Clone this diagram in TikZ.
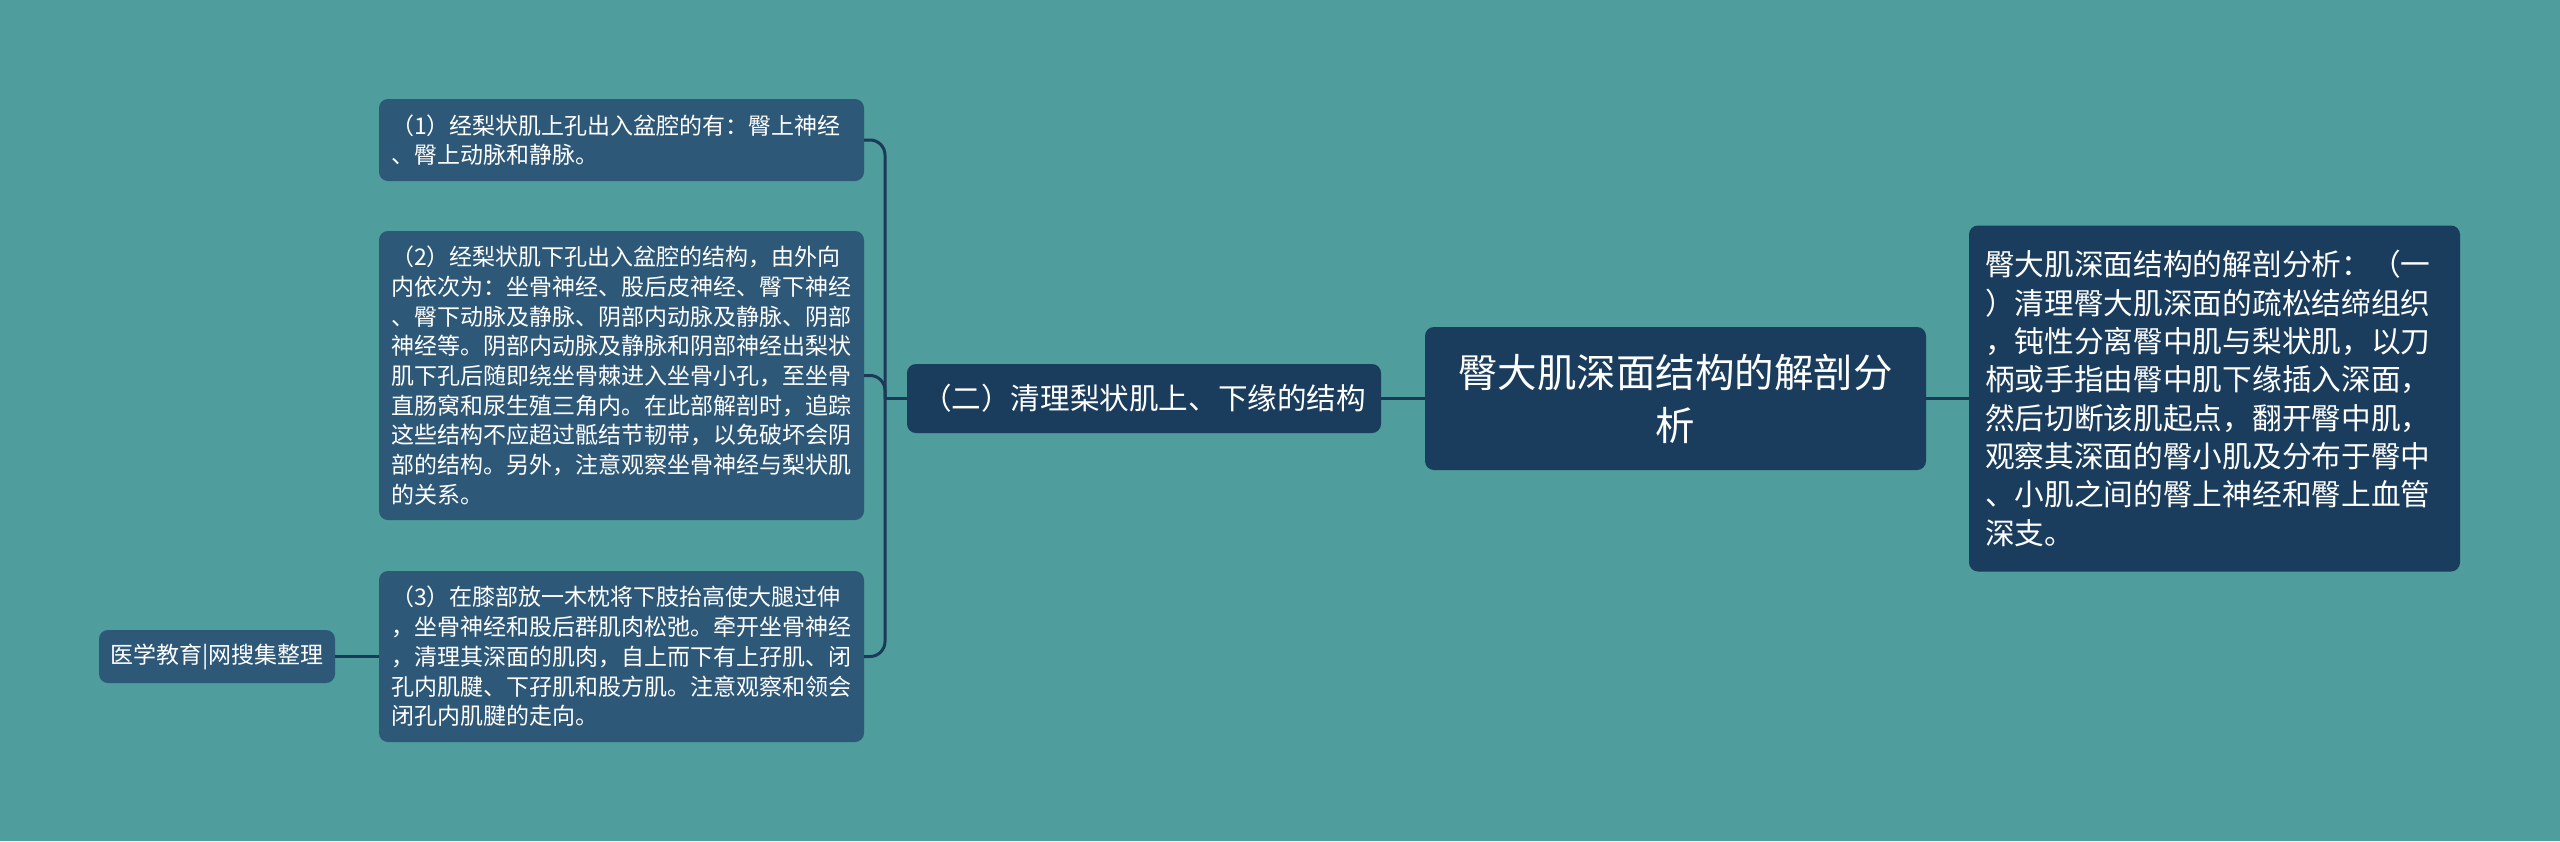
\documentclass[tikz,border=0pt]{standalone}
\usepackage{fontspec}
\newfontfamily\cjk{Noto Sans CJK SC}
\definecolor{bgc}{HTML}{4F9D9D}
\definecolor{leaffill}{HTML}{2E5878}
\definecolor{darkfill}{HTML}{1B3D5D}
\definecolor{linec}{HTML}{1B3A57}
\begin{document}
\begin{tikzpicture}[x=1pt,y=-1pt,
  box/.style={rounded corners=9pt, text=white, inner sep=0pt, outer sep=0pt, anchor=center},
  leaf/.style={box, fill=leaffill, font=\cjk\fontsize{23}{29.7}\selectfont, align=left, text width=461pt, minimum width=485pt},
  dark/.style={box, fill=darkfill},
  conn/.style={draw=linec, line width=3pt, rounded corners=15pt}]
\fill[bgc] (0,0) rectangle (2560,841);
\useasboundingbox (0,0) rectangle (2560,841);

% leaf boxes
\node[leaf, minimum height=82pt] (b1) at (621.5,140) {（1）经梨状肌上孔出入盆腔的有：臀上神经\\、臀上动脉和静脉。};
\node[leaf, minimum height=289pt] (b2) at (621.5,375.5) {（2）经梨状肌下孔出入盆腔的结构，由外向\\内依次为：坐骨神经、股后皮神经、臀下神经\\、臀下动脉及静脉、阴部内动脉及静脉、阴部\\神经等。阴部内动脉及静脉和阴部神经出梨状\\肌下孔后随即绕坐骨棘进入坐骨小孔，至坐骨\\直肠窝和尿生殖三角内。在此部解剖时，追踪\\这些结构不应超过骶结节韧带，以免破坏会阴\\部的结构。另外，注意观察坐骨神经与梨状肌\\的关系。};
\node[leaf, minimum height=171pt] (b3) at (621.5,656.5) {（3）在膝部放一木枕将下肢抬高使大腿过伸\\，坐骨神经和股后群肌肉松弛。牵开坐骨神经\\，清理其深面的肌肉，自上而下有上孖肌、闭\\孔内肌腱、下孖肌和股方肌。注意观察和领会\\闭孔内肌腱的走向。};

% source note
\node[box, fill=leaffill, font=\cjk\fontsize{23}{28}\selectfont, minimum width=236pt, minimum height=53pt] (src) at (217,656.5) {医学教育|网搜集整理};

% middle branch
\node[dark, font=\cjk\fontsize{29.6}{36}\selectfont, minimum width=474pt, minimum height=69pt] (er) at (1144,398.5) {（二）清理梨状肌上、下缘的结构};

% main topic
\node[dark, font=\cjk\fontsize{39.5}{53}\selectfont, align=center, text width=480pt, minimum width=501pt, minimum height=143pt] (main) at (1675.5,398.5) {臀大肌深面结构的解剖分\\析};

% right detail
\node[dark, font=\cjk\fontsize{29.7}{38.3}\selectfont, align=left, text width=459pt, minimum width=491pt, minimum height=346pt] (right) at (2214.5,398.5) {臀大肌深面结构的解剖分析：（一\\）清理臀大肌深面的疏松结缔组织\\，钝性分离臀中肌与梨状肌，以刀\\柄或手指由臀中肌下缘插入深面，\\然后切断该肌起点，翻开臀中肌，\\观察其深面的臀小肌及分布于臀中\\、小肌之间的臀上神经和臀上血管\\深支。};

% connectors
\coordinate (sp) at (885,398.5);
\draw[conn] (main.east) -- (right.west);
\draw[conn] (er.east) -- (main.west);
\draw[conn] (er.west) -- (sp);
\draw[conn] (b1.east) -| (sp) |- (b3.east);
\draw[conn] (b2.east) -| (sp);
\draw[conn] (src.east) -- (b3.west);
\end{tikzpicture}
\end{document}
